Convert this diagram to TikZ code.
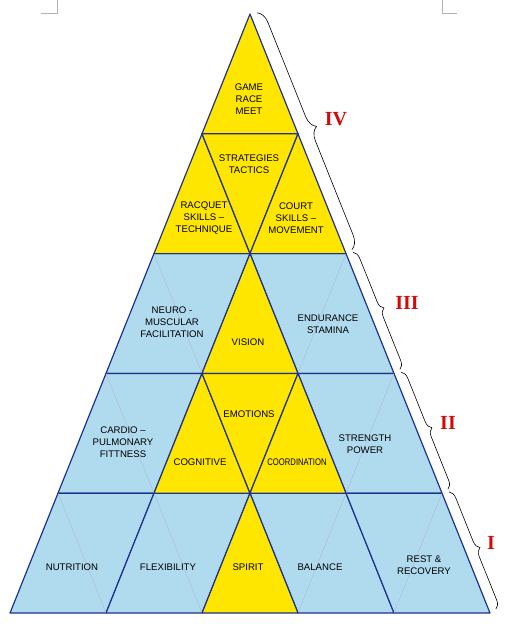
\documentclass[tikz,border=0pt]{standalone}
\usepackage{fontspec}
\setmainfont{Liberation Sans}
\newfontfamily\levelfont{Liberation Serif}
\usepackage{graphicx}
\usepackage{tikz}
\usetikzlibrary{calc,decorations.pathreplacing}

\definecolor{pyryellow}{RGB}{255,230,0}
\definecolor{pyrblue}{RGB}{176,218,238}
\definecolor{pyrline}{RGB}{30,50,140}
\definecolor{levelred}{RGB}{210,10,10}

\tikzset{
  cell/.style={draw=pyrline, line width=1.2pt, line join=round},
  gold/.style={cell, fill=pyryellow},
  sky/.style={cell, fill=pyrblue},
  faint/.style={draw=pyrline!35, line width=0.4pt},
  caption/.style={font=\fontsize{9.6}{11.7}\selectfont, align=center, inner sep=0pt},
  level/.style={font=\levelfont\bfseries\fontsize{20}{20}\selectfont, text=levelred, inner sep=0pt},
  span/.style={decorate, decoration={brace, amplitude=#1}, line width=0.6pt}
}

\begin{document}
\begin{tikzpicture}[x=1pt, y=-1pt]
  \useasboundingbox (0,0) rectangle (510,624);
  % page corner marks
  \draw [gray!60, line width=0.6pt] (41,13) -- (57,13) -- (57,0);
  \draw [gray!60, line width=0.6pt] (442,0) -- (442,13) -- (457,13);
  % lattice points: row k, point i
  \foreach \k in {0,...,5} {
    \foreach \i in {0,...,\k} {
      \coordinate (p\k\i) at ({250+48*(2*\i-\k)}, {14+119.8*\k});
    }
  }
  % blue blocks
  \draw [sky] (p20) -- (p21) -- (p31) -- (p30) -- cycle;
  \draw [sky] (p21) -- (p22) -- (p33) -- (p32) -- cycle;
  \draw [sky] (p30) -- (p31) -- (p41) -- (p40) -- cycle;
  \draw [sky] (p32) -- (p33) -- (p44) -- (p43) -- cycle;
  \draw [sky] (p40) -- (p41) -- (p51) -- (p50) -- cycle;
  \draw [sky] (p41) -- (p42) -- (p52) -- (p51) -- cycle;
  \draw [sky] (p42) -- (p43) -- (p54) -- (p53) -- cycle;
  \draw [sky] (p43) -- (p44) -- (p55) -- (p54) -- cycle;
  \draw [faint] (p20) -- (p31);
  \draw [faint] (p22) -- (p32);
  \draw [faint] (p30) -- (p41);
  \draw [faint] (p33) -- (p43);
  \draw [faint] (p40) -- (p51);
  \draw [faint] (p41) -- (p52);
  \draw [faint] (p43) -- (p53);
  \draw [faint] (p44) -- (p54);
  % yellow triangles
  \draw [gold] (p00) -- (p11) -- (p10) -- cycle;
  \draw [gold] (p10) -- (p21) -- (p20) -- cycle;
  \draw [gold] (p10) -- (p11) -- (p21) -- cycle;
  \draw [gold] (p11) -- (p22) -- (p21) -- cycle;
  \draw [gold] (p21) -- (p32) -- (p31) -- cycle;
  \draw [gold] (p31) -- (p42) -- (p41) -- cycle;
  \draw [gold] (p31) -- (p32) -- (p42) -- cycle;
  \draw [gold] (p32) -- (p43) -- (p42) -- cycle;
  \draw [gold] (p42) -- (p53) -- (p52) -- cycle;
  % texts
  \node [caption] (game) at (249,99) {GAME\\RACE\\MEET};
  \node [caption] (strategies) at (249,164) {STRATEGIES\\TACTICS};
  \node [caption] (racquet) at (204,218) {RACQUET\\SKILLS --\\TECHNIQUE};
  \node [caption] (court) at (296,218) {COURT\\SKILLS --\\MOVEMENT};
  \node [caption] (neuro) at (172,322) {NEURO -\\MUSCULAR\\FACILITATION};
  \node [caption] (vision) at (248,342) {VISION};
  \node [caption] (endurance) at (328,324) {ENDURANCE\\STAMINA};
  \node [caption] (cardio) at (123,442) {CARDIO --\\PULMONARY\\FITTNESS};
  \node [caption] (emotions) at (249,414) {EMOTIONS};
  \node [caption] (cognitive) at (200,462) {COGNITIVE};
  \node [caption] (coordination) at (297,462) {\scalebox{0.8}[1]{COORDINATION}};
  \node [caption] (strength) at (365,444) {STRENGTH\\POWER};
  \node [caption] (nutrition) at (72,567) {NUTRITION};
  \node [caption] (flexibility) at (168,567) {FLEXIBILITY};
  \node [caption] (spirit) at (248,567) {SPIRIT};
  \node [caption] (balance) at (320,567) {BALANCE};
  \node [caption] (rest) at (424,565) {REST \&\\RECOVERY};
  % braces along the right side
  \foreach \k in {0,2,3,4,5} {
    \coordinate (b\k) at ($(p\k\k)+(6.5,-2.6)$);
  }
  \draw [span=13] ($(b0)!1.5pt!(b2)$) -- ($(b2)!1.5pt!(b0)$);
  \draw [span=8] ($(b2)!1.5pt!(b3)$) -- ($(b3)!1.5pt!(b2)$);
  \draw [span=8] ($(b3)!1.5pt!(b4)$) -- ($(b4)!1.5pt!(b3)$);
  \draw [span=8] ($(b4)!1.5pt!(b5)$) -- ($(b5)!1.5pt!(b4)$);
  \node [level] (four) at (336,119) {IV};
  \node [level] (three) at (407,303) {III};
  \node [level] (two) at (448,423) {II};
  \node [level] (one) at (491,543) {I};
\end{tikzpicture}
\end{document}
